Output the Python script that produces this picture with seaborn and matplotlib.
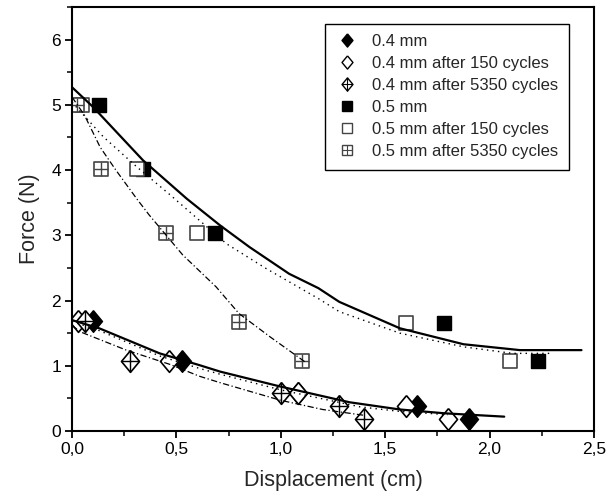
import numpy as np
import pandas as pd
import matplotlib
matplotlib.use("Agg")
import matplotlib.pyplot as plt
from matplotlib.lines import Line2D
from matplotlib.path import Path
from matplotlib.markers import MarkerStyle
from matplotlib.legend_handler import HandlerTuple
from matplotlib.ticker import MultipleLocator, FuncFormatter
import seaborn as sns

# ---- measured points ----
x_04 = [0.10, 0.525, 1.08, 1.65, 1.90]
y_04 = [1.68, 1.07, 0.58, 0.38, 0.18]
x_04_150 = [0.03, 0.465, 1.08, 1.60, 1.80]
y_04_150 = [1.68, 1.07, 0.58, 0.38, 0.18]
x_04_5350 = [0.06, 0.28, 1.00, 1.28, 1.40]
y_04_5350 = [1.68, 1.07, 0.58, 0.38, 0.18]

x_05 = [0.13, 0.34, 0.685, 1.78, 2.23]
y_05 = [5.00, 4.02, 3.04, 1.66, 1.08]
x_05_150 = [0.046, 0.31, 0.60, 1.60, 2.10]
y_05_150 = [5.00, 4.02, 3.04, 1.66, 1.08]
x_05_5350 = [0.025, 0.14, 0.45, 0.80, 1.10]
y_05_5350 = [5.00, 4.02, 3.04, 1.665, 1.08]

# ---- fitted curves ----
fx_04 = [0.0, 0.13, 0.42, 0.61, 0.71, 1.0, 1.33, 1.57, 1.79, 2.07]
fy_04 = [1.70, 1.575, 1.19, 1.01, 0.91, 0.68, 0.44, 0.33, 0.27, 0.22]
fx_04_150 = [0.0, 0.13, 0.42, 0.61, 0.71, 1.0, 1.38, 1.57, 1.80]
fy_04_150 = [1.68, 1.54, 1.15, 0.96, 0.87, 0.63, 0.37, 0.30, 0.25]
fx_04_5350 = [0.0, 0.04, 0.26, 0.47, 0.61, 0.71, 1.0, 1.2, 1.4]
fy_04_5350 = [1.62, 1.52, 1.24, 1.02, 0.84, 0.74, 0.47, 0.33, 0.24]

fx_05 = [0.0, 0.10, 0.34, 0.55, 0.71, 0.85, 1.04, 1.18, 1.28, 1.57, 1.875, 2.145, 2.44]
fy_05 = [5.27, 4.97, 4.15, 3.56, 3.15, 2.82, 2.41, 2.19, 1.98, 1.575, 1.33, 1.24, 1.24]
fx_05_150 = [0.0, 0.15, 0.31, 0.47, 0.61, 0.74, 0.93, 1.18, 1.28, 1.57, 1.875, 2.11, 2.29]
fy_05_150 = [5.04, 4.51, 4.05, 3.62, 3.23, 2.87, 2.49, 2.03, 1.83, 1.50, 1.29, 1.19, 1.19]
fx_05_5350 = [0.0, 0.06, 0.135, 0.21, 0.31, 0.37, 0.53, 0.69, 0.80, 0.95, 1.12]
fy_05_5350 = [5.12, 4.84, 4.35, 4.00, 3.56, 3.31, 2.70, 2.21, 1.80, 1.44, 1.05]

labels = ["0.4 mm", "0.4 mm after 150 cycles", "0.4 mm after 5350 cycles",
          "0.5 mm", "0.5 mm after 150 cycles", "0.5 mm after 5350 cycles"]

sns.set_theme(style="ticks")
plt.rcParams['font.family'] = ['Liberation Sans', 'DejaVu Sans']

diamond = MarkerStyle([(0, 1), (0.83, 0), (0, -1), (-0.83, 0), (0, 1)])
dcross = MarkerStyle(Path([(0, 1), (0, -1), (-0.83, 0), (0.83, 0)],
                          [Path.MOVETO, Path.LINETO, Path.MOVETO, Path.LINETO]))
scross = MarkerStyle(Path([(0, 1), (0, -1), (-1, 0), (1, 0)],
                          [Path.MOVETO, Path.LINETO, Path.MOVETO, Path.LINETO]))

fig = plt.figure(figsize=(6.11, 5.01), dpi=100)
ax = fig.add_axes([72 / 611, 70 / 501, 522 / 611, 424 / 501])

DS = 245   # diamond area
SS = 100   # square area
grey = "#444444"

def pts(x, y):
    return pd.DataFrame({"x": x, "y": y})

# diamonds
sns.scatterplot(data=pts(x_04, y_04), x="x", y="y", marker=diamond, s=DS,
                color="black", edgecolor="black", linewidth=1, zorder=2, ax=ax)
sns.scatterplot(data=pts(x_04_150, y_04_150), x="x", y="y", marker=diamond, s=DS,
                color="white", edgecolor="black", linewidth=1.2, zorder=2.1, ax=ax)
sns.scatterplot(data=pts(x_04_5350, y_04_5350), x="x", y="y", marker=diamond, s=DS,
                color="white", edgecolor="black", linewidth=1.2, zorder=2.2, ax=ax)
sns.scatterplot(data=pts(x_04_5350, y_04_5350), x="x", y="y", marker=dcross, s=DS,
                facecolor="none", edgecolor="black", linewidth=1.0, zorder=2.3, ax=ax)

# squares
sns.scatterplot(data=pts(x_05, y_05), x="x", y="y", marker="s", s=SS,
                color="black", edgecolor="black", linewidth=1, zorder=2, ax=ax)
sns.scatterplot(data=pts(x_05_150, y_05_150), x="x", y="y", marker="s", s=SS,
                color="white", edgecolor=grey, linewidth=1.2, zorder=2.1, ax=ax)
sns.scatterplot(data=pts(x_05_5350, y_05_5350), x="x", y="y", marker="s", s=SS,
                color="white", edgecolor=grey, linewidth=1.2, zorder=2.2, ax=ax)
sns.scatterplot(data=pts(x_05_5350, y_05_5350), x="x", y="y", marker=scross, s=SS,
                facecolor="none", edgecolor=grey, linewidth=1.0, zorder=2.3, ax=ax)

# fit curves
curve_kw = dict(x="x", y="y", sort=False, estimator=None, color="black", ax=ax)
sns.lineplot(data=pts(fx_04, fy_04), linewidth=1.6, zorder=3, **curve_kw)
sns.lineplot(data=pts(fx_04_150, fy_04_150), linewidth=1.0, linestyle=(0, (1, 3)), zorder=3, **curve_kw)
sns.lineplot(data=pts(fx_04_5350, fy_04_5350), linewidth=0.9, linestyle=(0, (5, 2, 1, 2)), zorder=3, **curve_kw)
sns.lineplot(data=pts(fx_05, fy_05), linewidth=1.6, zorder=3, **curve_kw)
sns.lineplot(data=pts(fx_05_150, fy_05_150), linewidth=1.0, linestyle=(0, (1, 3)), zorder=3, **curve_kw)
sns.lineplot(data=pts(fx_05_5350, fy_05_5350), linewidth=0.9, linestyle=(0, (5, 2, 1, 2)), zorder=3, **curve_kw)

ax.set_xlim(0, 2.5)
ax.set_ylim(0, 6.5)
ax.xaxis.set_major_locator(MultipleLocator(0.5))
ax.xaxis.set_minor_locator(MultipleLocator(0.25))
ax.yaxis.set_major_locator(MultipleLocator(1))
ax.yaxis.set_minor_locator(MultipleLocator(0.5))
ax.xaxis.set_major_formatter(FuncFormatter(lambda v, p: f"{v:.1f}".replace(".", ",")))
ax.yaxis.set_major_formatter(FuncFormatter(lambda v, p: f"{v:.0f}"))
ax.tick_params(which="major", direction="out", length=5, width=1.3, labelsize=12.5,
               colors="black", pad=3, top=False, right=False)
ax.tick_params(which="minor", direction="out", length=3.5, width=1.3, top=False, right=False)
for sp in ax.spines.values():
    sp.set_linewidth(1.5)
    sp.set_color("black")
    sp.set_visible(True)

ax.set_xlabel("Displacement (cm)", fontsize=15.5, labelpad=9)
ax.set_ylabel("Force (N)", fontsize=15.5, labelpad=8)

# legend
lm = 7.5
h1 = Line2D([], [], marker=diamond, linestyle="none", markersize=lm + 2, mfc="black", mec="black")
h2 = Line2D([], [], marker=diamond, linestyle="none", markersize=lm + 2, mfc="white", mec="black", mew=1)
h3 = (Line2D([], [], marker=diamond, linestyle="none", markersize=lm + 2, mfc="white", mec="black", mew=1),
      Line2D([], [], marker=dcross, linestyle="none", markersize=lm + 2, mfc="none", mec="black", mew=0.8))
h4 = Line2D([], [], marker="s", linestyle="none", markersize=lm - 1, mfc="black", mec="black")
h5 = Line2D([], [], marker="s", linestyle="none", markersize=lm - 1, mfc="white", mec=grey, mew=1)
h6 = (Line2D([], [], marker="s", linestyle="none", markersize=lm - 1, mfc="white", mec=grey, mew=1),
      Line2D([], [], marker=scross, linestyle="none", markersize=lm - 1, mfc="none", mec=grey, mew=0.8))
leg = ax.legend([h1, h2, h3, h4, h5, h6], labels, loc="upper right",
                bbox_to_anchor=(0.952, 0.96), borderaxespad=0, fontsize=12,
                handler_map={tuple: HandlerTuple(ndivide=1, pad=0)},
                frameon=True, fancybox=False, edgecolor="black", framealpha=1,
                handlelength=1.3, handletextpad=0.9, labelspacing=0.42,
                borderpad=0.62)
leg.get_frame().set_linewidth(1.0)

fig.savefig("out.png", dpi=100)
